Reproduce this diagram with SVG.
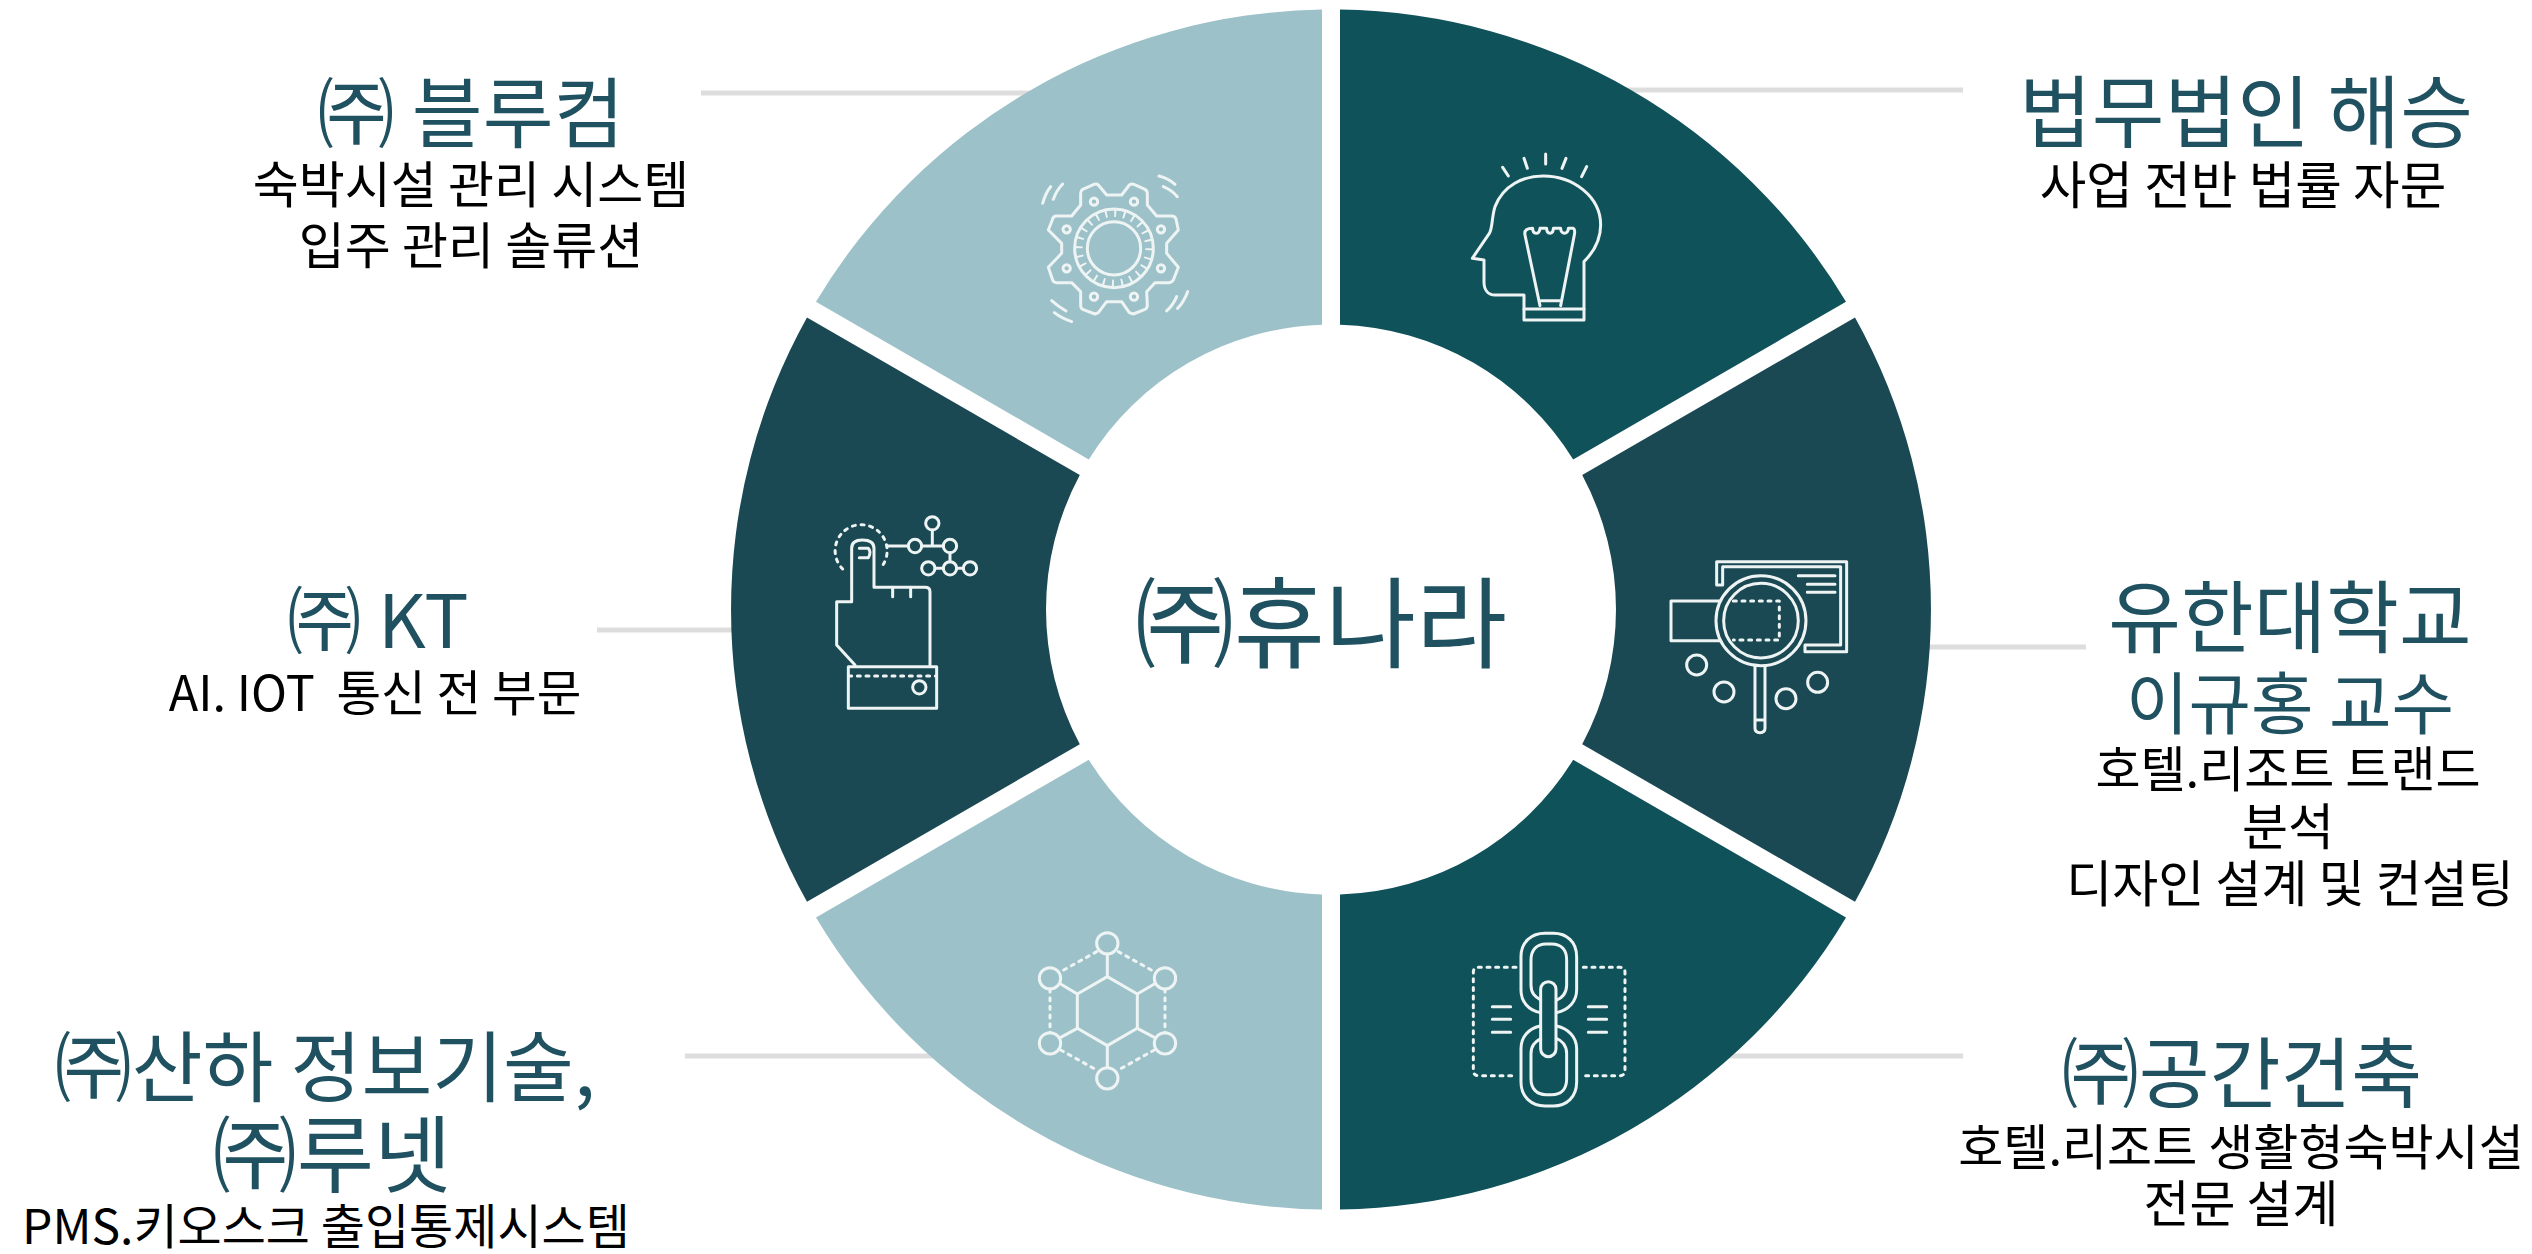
<svg xmlns="http://www.w3.org/2000/svg" width="2532" height="1254" viewBox="0 0 2532 1254">
<style>
text{font-family:"Noto Sans CJK KR","Noto Sans",sans-serif;text-anchor:middle}
.t{font-size:77px;fill:#1f5160}
.s{font-size:50px;fill:#000}
.c{font-size:99px;fill:#1f5160}
.d{fill:#105259}.e{fill:#1a4953}.l{fill:#9cc1c8}
.i{fill:none;stroke:#eef4f4;stroke-width:9;stroke-linecap:round;stroke-linejoin:round}
.dot{stroke-dasharray:9 17}
.lead{stroke:#dddddd;stroke-width:5}
</style>
<rect width="2532" height="1254" fill="#ffffff"/>
<g id="connectors">
<line class="lead" x1="1500" y1="90" x2="1963" y2="90"/>
<line class="lead" x1="1800" y1="647" x2="2086" y2="647"/>
<line class="lead" x1="1500" y1="1056" x2="1963" y2="1056"/>
<line class="lead" x1="701" y1="93" x2="1100" y2="93"/>
<line class="lead" x1="597" y1="630" x2="800" y2="630"/>
<line class="lead" x1="685" y1="1056" x2="1100" y2="1056"/>
</g>
<g id="node-1">
<path class="d" transform="translate(1331,609.6)" d="M9,-600A600,600 0 0 1 515,-307.8L242.2,-150.2A285,285 0 0 0 9,-284.86Z"/>
<g class="i" transform="translate(1440,140) scale(.3333)">
<path d="M97,355L148,280C158,265 155,230 165,200C190,135 250,108 310,108C400,108 482,170 482,255C482,300 462,335 432,365L432,540L252,540L252,465L165,465C145,465 132,450 132,425L132,360Z"/>
<path d="M252,507L432,507M303,482L360,482"/>
<path d="M300,497L255,285C252,270 262,265 278,265C278,285 298,285 300,265L320,265C320,285 340,285 340,265L362,265C362,285 385,285 385,265L400,265C405,268 405,275 403,285L362,497"/>
<path d="M188,82L205,108M252,55L262,85M317,42L317,72M378,55L366,85M440,80L425,110"/>
</g>
<text class="t" x="2246" y="142" style="font-size:79px">법무법인 해승</text>
<text class="s" x="2243" y="204" style="font-size:50.6px">사업 전반 법률 자문</text>
</g>
<g id="node-2">
<path class="e" transform="translate(1331,609.6)" d="M524,-292.2A600,600 0 0 1 524,292.2L251.2,134.6A285,285 0 0 0 251.2,-134.6Z"/>
<g class="i" transform="translate(1600,500) scale(.3333)">
<path d="M350,255L350,185L740,185L740,455L615,455L615,435L722,435L722,200L368,200L368,255Z"/>
<path d="M595,227L705,227M622,253L705,253M622,277L705,277M360,303L213,303L213,422L360,422"/>
<circle cx="483" cy="362" r="135"/><circle cx="483" cy="362" r="112"/>
<path class="dot" d="M400,303L538,303L538,420L400,420"/>
<path d="M465,497L465,685Q465,698 480,698Q495,698 495,685L495,497M465,660L495,660"/>
<circle cx="290" cy="495" r="30"/><circle cx="372" cy="576" r="30"/><circle cx="558" cy="596" r="30"/><circle cx="653" cy="547" r="30"/>
</g>
<text class="t" x="2290" y="647" style="font-size:79px">유한대학교</text>
<text class="t" x="2290" y="729" style="font-size:68px">이규홍 교수</text>
<text class="s" x="2288" y="787" style="font-size:49px">호텔.리조트 트랜드</text>
<text class="s" x="2288" y="845">분석</text>
<text class="s" x="2290" y="902">디자인 설계 및 컨설팅</text>
</g>
<g id="node-3">
<path class="d" transform="translate(1331,609.6)" d="M9,600A600,600 0 0 0 515,307.8L242.2,150.2A285,285 0 0 1 9,284.86Z"/>
<g class="i" transform="translate(1420,900) scale(.3333)">
<path d="M360,338C325,330 303,305 303,270L303,170C303,125 335,100 375,100L400,100C440,100 470,125 470,170L470,270C470,305 445,330 410,338"/>
<path d="M362,300C345,290 333,280 333,255L333,180C333,150 350,132 378,132L395,132C425,132 440,150 440,180L440,255C440,280 425,295 410,300"/>
<path d="M360,378C325,386 303,411 303,446L303,546C303,591 335,618 375,618L400,618C440,618 470,591 470,546L470,446C470,411 445,386 410,378"/>
<path d="M362,416C345,426 333,436 333,461L333,536C333,566 350,584 378,584L395,584C425,584 440,566 440,536L440,461C440,436 425,421 410,416"/>
<rect x="362" y="245" width="46" height="225" rx="23"/>
<path class="dot" d="M288,202L175,202Q160,202 160,217L160,510Q160,527 175,527L280,527"/>
<path class="dot" d="M490,202L600,202Q615,202 615,217L615,510Q615,527 600,527L497,527"/>
<path d="M217,320L272,320M217,358L272,358M217,397L272,397M505,320L560,320M505,358L560,358M505,397L560,397"/>
</g>
<text class="t" x="2242" y="1102">㈜공간건축</text>
<text class="s" x="2241" y="1165" style="font-size:49px">호텔.리조트 생활형숙박시설</text>
<text class="s" x="2241" y="1222">전문 설계</text>
</g>
<g id="node-4">
<path class="l" transform="translate(1331,609.6)" d="M-9,600A600,600 0 0 1 -515,307.8L-242.2,150.2A285,285 0 0 0 -9,284.86Z"/>
<g class="i" transform="translate(990,900) scale(.3333)">
<circle cx="352" cy="130" r="32"/><circle cx="180" cy="235" r="32"/><circle cx="525" cy="235" r="32"/><circle cx="180" cy="430" r="32"/><circle cx="525" cy="430" r="32"/><circle cx="352" cy="535" r="32"/>
<path d="M352,230L442,282L442,385L352,437L262,385L262,282Z"/>
<path d="M352,162L352,230M212,252L262,282M493,252L442,282M212,412L262,385M493,412L442,385M352,437L352,503"/>
<path class="dot" d="M320,155L212,215M385,155L493,215M180,267L180,398M525,267L525,398M212,450L320,510M493,450L385,510"/>
</g>
<text class="t" x="325" y="1096">㈜산하 정보기술,</text>
<text class="t" x="332" y="1186" style="font-size:84px">㈜루넷</text>
<text class="s" x="326" y="1244" style="font-size:48px">PMS.키오스크 출입통제시스템</text>
</g>
<g id="node-5">
<path class="e" transform="translate(1331,609.6)" d="M-524,-292.2A600,600 0 0 0 -524,292.2L-251.2,134.6A285,285 0 0 1 -251.2,-134.6Z"/>
<g class="i" transform="translate(800,490) scale(.3333)">
<path d="M165,525L110,465L110,335L155,335L155,175Q155,150 187,150Q222,150 222,175L222,292L375,292Q390,292 390,305L390,527"/>
<path d="M278,292L278,320M332,292L332,320"/>
<rect x="145" y="530" width="265" height="125"/>
<path class="dot" d="M146,558L410,558"/>
<circle cx="358" cy="592" r="20"/>
<path d="M178,175L205,175Q215,185 205,203L178,203"/>
<path class="dot" d="M128,237A78,78 0 1 1 245,230"/>
<circle cx="397" cy="100" r="20"/><circle cx="345" cy="168" r="20"/><circle cx="450" cy="168" r="20"/><circle cx="385" cy="235" r="20"/><circle cx="450" cy="235" r="20"/><circle cx="510" cy="235" r="20"/>
<path d="M262,168L325,168M365,168L430,168M397,120L397,168M450,188L450,215M405,235L430,235M470,235L490,235"/>
</g>
<text class="t" x="378" y="648" style="font-size:74px">㈜ KT</text>
<text class="s" x="375" y="711" style="font-size:48.5px" xml:space="preserve">AI. IOT  통신 전 부문</text>
</g>
<g id="node-6">
<path class="l" transform="translate(1331,609.6)" d="M-9,-600A600,600 0 0 0 -515,-307.8L-242.2,-150.2A285,285 0 0 1 -9,-284.86Z"/>
<g class="i" transform="translate(1010,150) scale(.3333)">
<path d="M290,135L335,135L358,105Q365,100 372,103L405,118Q412,122 412,130L412,165L440,198L485,198Q495,198 498,207L505,240L470,280L470,310L505,352L490,390Q485,398 475,398L435,398L410,425L412,465Q412,475 405,478L370,492L358,488L335,455L290,455L265,488L255,492L218,478Q212,475 212,465L212,425L185,398L140,398Q130,398 128,390L115,352L155,310L155,280L115,240L128,207Q130,198 140,198L185,198L212,165L212,130Q212,122 218,118L252,103Q260,100 265,105Z"/>
<circle cx="252" cy="155" r="11"/><circle cx="372" cy="155" r="11"/><circle cx="170" cy="238" r="11"/><circle cx="453" cy="238" r="11"/><circle cx="170" cy="355" r="11"/><circle cx="453" cy="355" r="11"/><circle cx="252" cy="440" r="11"/><circle cx="372" cy="440" r="11"/>
<circle cx="312" cy="295" r="118"/><circle cx="312" cy="295" r="80"/>
<circle cx="312" cy="295" r="106" stroke-width="24" stroke-dasharray="6 21.75" stroke-linecap="butt"/>
<path d="M98,160C105,135 115,118 122,110M130,148Q140,120 158,102M447,78Q475,85 495,103M460,110Q485,120 502,140M125,452Q145,470 168,483M133,488Q155,505 185,515M470,483Q490,465 500,440M503,475Q522,455 533,425"/>
</g>
<text class="t" x="471" y="142">㈜ 블루컴</text>
<text class="s" x="471" y="203">숙박시설 관리 시스템</text>
<text class="s" x="471" y="264">입주 관리 솔류션</text>
</g>
<g id="center">
<text class="c" x="1321" y="660">㈜휴나라</text>
</g>
</svg>
